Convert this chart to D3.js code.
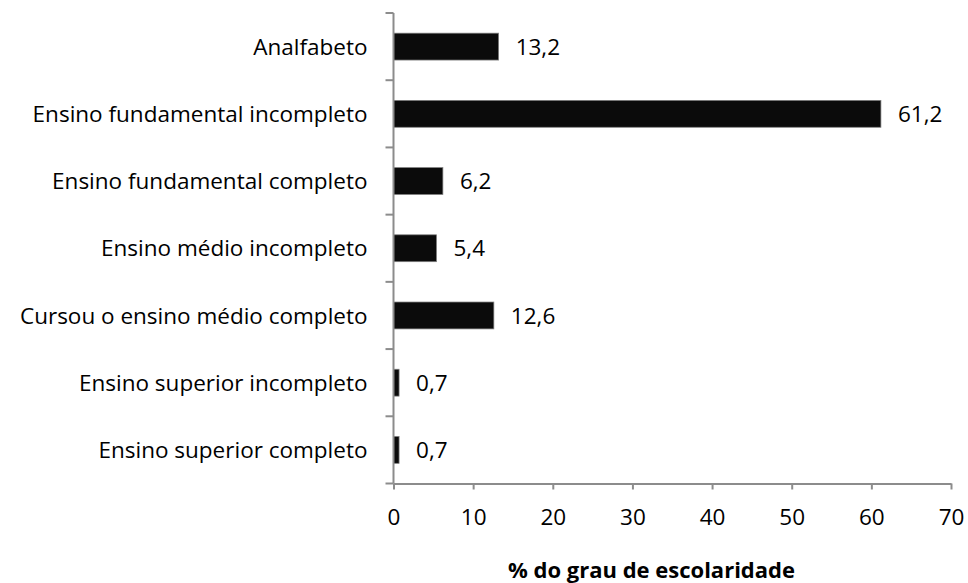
<!DOCTYPE html>
<html>
<head>
<meta charset="utf-8">
<script src="https://cdn.jsdelivr.net/npm/d3@7/dist/d3.min.js"></script>
<style>
  html, body { margin: 0; padding: 0; background: #fff; }
  svg { display: block; }
  text { font-family: "Open Sans", Lato, sans-serif; fill: #000; }
</style>
</head>
<body>
<svg id="chart" width="968" height="583"></svg>
<script>
// Escolaridade: categorias e percentuais
const categories = [
  "Analfabeto",
  "Ensino fundamental incompleto",
  "Ensino fundamental completo",
  "Ensino médio incompleto",
  "Cursou o ensino médio completo",
  "Ensino superior incompleto",
  "Ensino superior completo"
];
const values = [13.2, 61.2, 6.2, 5.4, 12.6, 0.7, 0.7];
const labels = ["13,2", "61,2", "6,2", "5,4", "12,6", "0,7", "0,7"];
const xTicks = [0, 10, 20, 30, 40, 50, 60, 70];
const xTitle = "% do grau de escolaridade";

const svg = d3.select("#chart");
const plotLeft = 393.5, plotRight = 951, plotTop = 13, plotBottom = 483.5;
const fontSize = 22.5;

const x = d3.scaleLinear().domain([0, 70]).range([plotLeft, plotRight]);
const y = d3.scaleBand().domain(categories).range([plotTop, plotBottom]).paddingInner(0.6).paddingOuter(0.3);

const axisColor = "#8c8c8c";

// Bars
svg.append("g").selectAll("rect")
  .data(values)
  .join("rect")
  .attr("x", x(0))
  .attr("y", (d, i) => y(categories[i]))
  .attr("width", d => x(d) - x(0))
  .attr("height", y.bandwidth())
  .attr("fill", "#0b0b0b")
  .attr("stroke", "#7f7f7f")
  .attr("stroke-width", 0.75);

// Value labels
svg.append("g").selectAll("text")
  .data(values)
  .join("text")
  .attr("x", d => x(d) + 17)
  .attr("y", (d, i) => y(categories[i]) + y.bandwidth() / 2)
  .attr("dy", "0.36em")
  .attr("font-size", fontSize)
  .text((d, i) => labels[i]);

// Category axis: line with boundary ticks between categories
const yAxis = svg.append("g");
yAxis.append("line")
  .attr("x1", plotLeft).attr("x2", plotLeft)
  .attr("y1", plotTop).attr("y2", plotBottom)
  .attr("stroke", axisColor).attr("stroke-width", 2);
const boundaries = d3.range(categories.length + 1)
  .map(i => plotTop + i * (plotBottom - plotTop) / categories.length);
yAxis.selectAll("line.tick")
  .data(boundaries)
  .join("line")
  .attr("class", "tick")
  .attr("x1", plotLeft - 8).attr("x2", plotLeft)
  .attr("y1", d => d).attr("y2", d => d)
  .attr("stroke", axisColor).attr("stroke-width", 2);
yAxis.selectAll("text")
  .data(categories)
  .join("text")
  .attr("x", plotLeft - 26)
  .attr("y", d => y(d) + y.bandwidth() / 2)
  .attr("dy", "0.36em")
  .attr("text-anchor", "end")
  .attr("font-size", fontSize)
  .text(d => d);

// Value axis
const xAxis = svg.append("g")
  .attr("transform", `translate(0,${plotBottom})`)
  .call(d3.axisBottom(x).tickValues(xTicks).tickSize(6).tickSizeOuter(0).tickPadding(20).tickFormat(d3.format("d")));
xAxis.select(".domain").attr("stroke", axisColor).attr("stroke-width", 2);
xAxis.selectAll(".tick line").attr("stroke", axisColor).attr("stroke-width", 2);
xAxis.selectAll(".tick text")
  .attr("font-size", fontSize)
  .attr("font-family", "'Open Sans', Lato, sans-serif")
  .attr("fill", "#000");

// Axis title
svg.append("text")
  .attr("x", 651.5)
  .attr("y", 578)
  .attr("text-anchor", "middle")
  .attr("font-size", 22)
  .attr("font-weight", "bold")
  .text(xTitle);
</script>
</body>
</html>
